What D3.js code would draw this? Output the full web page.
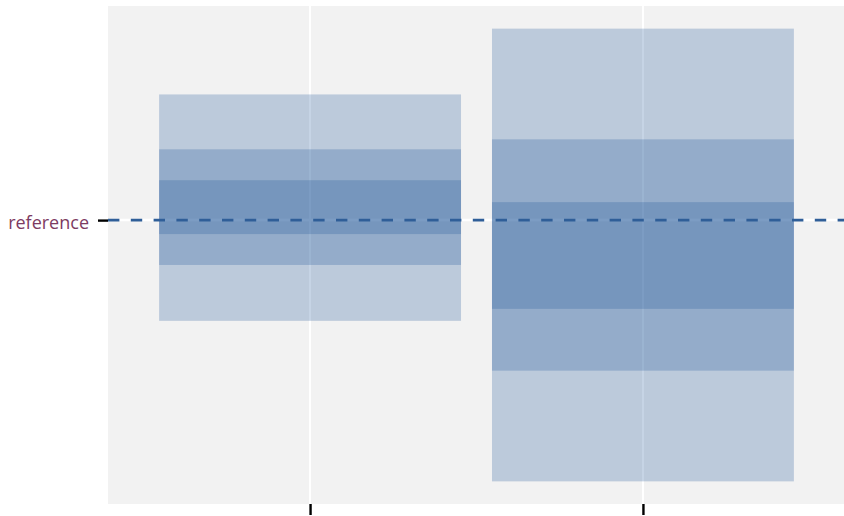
<!DOCTYPE html>
<html>
<head>
<meta charset="utf-8">
<script src="https://cdn.jsdelivr.net/npm/d3@7/dist/d3.min.js"></script>
<style>
  html, body { margin: 0; padding: 0; background: #ffffff; }
  svg { display: block; }
</style>
</head>
<body>
<svg id="chart" width="844" height="516"></svg>
<script>
// Groups along the x axis (no tick labels are printed)
const categories = ["A", "B"];
// Nested interval bounds per group: outer, middle, inner
const outerLow  = [-1.01, -2.62];
const outerHigh = [ 1.26,  1.92];
const midLow    = [-0.45, -1.51];
const midHigh   = [ 0.71,  0.81];
const innerLow  = [-0.14, -0.89];
const innerHigh = [ 0.40,  0.18];
// Reference level drawn as a dashed line with its own y tick
const refValue = 0;
const yTickLabels = ["reference"];

const svg = d3.select("#chart");
const W = 844, H = 516;
const margin = { top: 6, right: 0, bottom: 12, left: 108 };
const pw = W - margin.left - margin.right;
const ph = H - margin.top - margin.bottom;

// y domain: data extent with 5% padding on both sides
const lo = d3.min(outerLow), hi = d3.max(outerHigh);
const pad = (hi - lo) * 0.05;
const y = d3.scaleLinear().domain([lo - pad, hi + pad]).range([margin.top + ph, margin.top]);

// discrete x: positions 1..n with about 0.6 units of padding on each side
const n = categories.length;
const xPos = d3.scaleLinear().domain([0.393, n + 0.604]).range([margin.left, margin.left + pw]);
const unit = xPos(2) - xPos(1);
const barW = unit * 0.907;

// panel background
svg.append("rect")
  .attr("x", margin.left).attr("y", margin.top)
  .attr("width", pw).attr("height", ph)
  .attr("fill", "#f2f2f2");

// grid lines
const gridG = svg.append("g");
categories.forEach((c, i) => {
  gridG.append("line")
    .attr("x1", xPos(i + 1)).attr("x2", xPos(i + 1))
    .attr("y1", margin.top).attr("y2", margin.top + ph)
    .attr("stroke", "#ffffff").attr("stroke-width", 2);
});
gridG.append("line")
  .attr("x1", margin.left).attr("x2", margin.left + pw)
  .attr("y1", y(refValue)).attr("y2", y(refValue))
  .attr("stroke", "#ffffff").attr("stroke-width", 2.5);

// interval bands, layered translucently
const fillColor = "#24579a";
const layers = [
  { low: outerLow, high: outerHigh },
  { low: midLow, high: midHigh },
  { low: innerLow, high: innerHigh }
];
const bandG = svg.append("g");
layers.forEach(layer => {
  bandG.selectAll(null)
    .data(categories)
    .join("rect")
    .attr("x", (d, i) => xPos(i + 1) - barW / 2)
    .attr("width", barW)
    .attr("y", (d, i) => y(layer.high[i]))
    .attr("height", (d, i) => y(layer.low[i]) - y(layer.high[i]))
    .attr("fill", fillColor)
    .attr("fill-opacity", 0.26);
});

// dashed reference line
svg.append("line")
  .attr("x1", margin.left).attr("x2", margin.left + pw)
  .attr("y1", y(refValue)).attr("y2", y(refValue))
  .attr("stroke", "#2f5e98").attr("stroke-width", 2.6)
  .attr("stroke-dasharray", "11.4,11.4");

// y axis: single tick at the reference level
const yAxis = d3.axisLeft(y)
  .tickValues([refValue])
  .tickFormat((d, i) => yTickLabels[i])
  .tickSize(10)
  .tickPadding(9);
const yg = svg.append("g")
  .attr("transform", `translate(${margin.left},0)`)
  .call(yAxis);
yg.select(".domain").remove();
yg.selectAll(".tick line").attr("stroke", "#000000").attr("stroke-width", 2.4);
yg.selectAll(".tick text")
  .attr("fill", "#7d3b62")
  .attr("dy", "0.45em")
  .style("font-family", "'Open Sans', sans-serif")
  .style("font-size", "18px");

// x axis: ticks only
const xAxis = d3.axisBottom(xPos)
  .tickValues(categories.map((c, i) => i + 1))
  .tickFormat(() => "")
  .tickSize(11);
const xg = svg.append("g")
  .attr("transform", `translate(0,${margin.top + ph})`)
  .call(xAxis);
xg.select(".domain").remove();
xg.selectAll(".tick line").attr("stroke", "#000000").attr("stroke-width", 2.4);
</script>
</body>
</html>
